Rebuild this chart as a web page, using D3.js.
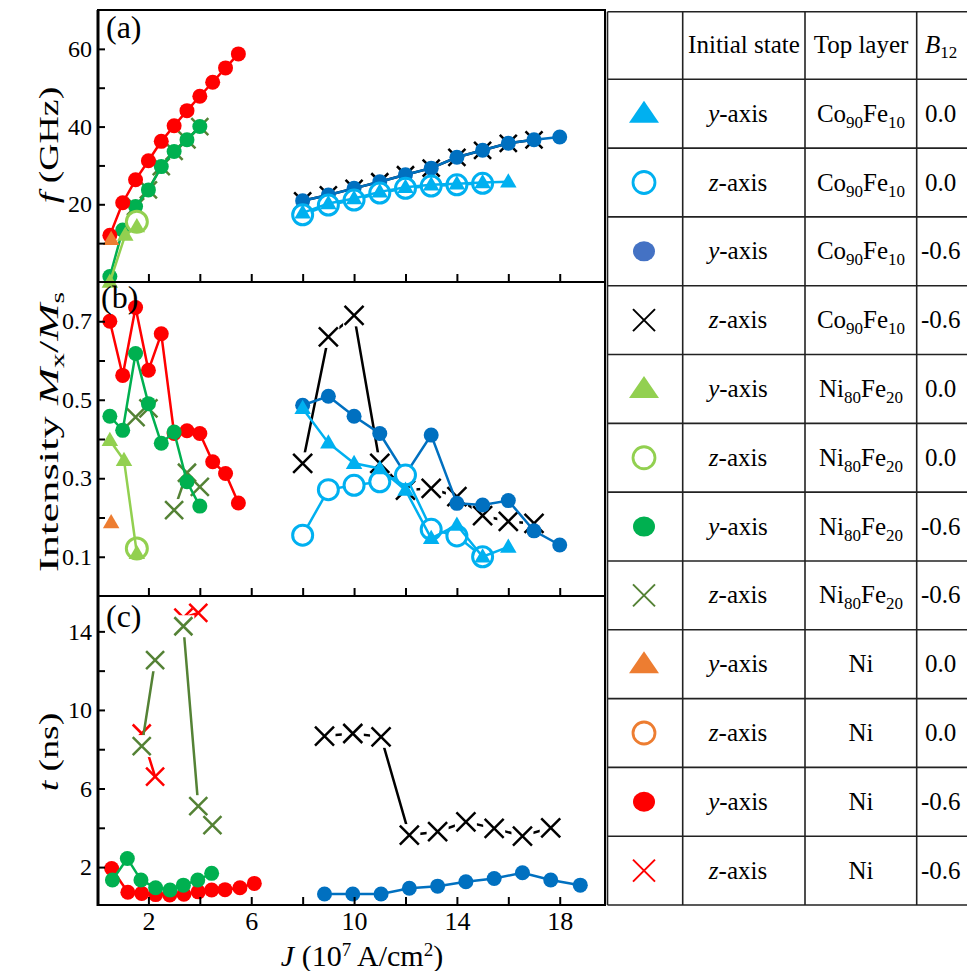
<!DOCTYPE html>
<meta charset="utf-8">
<body>
<script src="https://cdn.jsdelivr.net/npm/d3@7"></script>
<style>
    html, body {
        margin: 0;
        background: #fff;
    }
    svg text {
        font-family: "Liberation Serif", "Times New Roman", serif;
        fill: #000;
    }
</style>
<script>
// ---- data: J in 10^7 A/cm^2 ----
// (a) frequency f (GHz)
var aNiJ   = [0.5, 1, 1.5, 2, 2.5, 3, 3.5, 4, 4.5, 5, 5.5],
    aNiY6  = [12, 20.4, 26.3, 31.2, 36.2, 40.2, 44.1, 47.8, 51.4, 55.1, 58.7],
    aNfJ   = [0.5, 1, 1.5, 2, 2.5, 3, 3.5, 4],
    aNfY6  = [1.4, 13.4, 19.4, 23.7, 29.7, 33.6, 36.6, 40.0],
    aNfZ6J = [1.5, 2, 2.5, 3, 3.5, 4],
    aNfZ6  = [19.4, 23.7, 29.7, 33.6, 36.6, 40.0],
    aNfY0J = [0.5, 1.1, 1.55],
    aNfY0  = [0, 12.1, 14.3],
    aNfZ0J = [1.55],
    aNfZ0  = [15.5],
    aNiY0J = [0.55],
    aNiY0  = [11],
    aCfJ   = [8, 9, 10, 11, 12, 13, 14, 15, 16, 17, 18],
    aCfY6  = [20.9, 22.4, 24.1, 25.8, 27.6, 29.3, 32.1, 33.9, 35.7, 36.6, 37.3],
    aCfZ6  = [20.9, 22.4, 24.1, 25.8, 27.6, 29.3, 32.1, 33.9, 35.7, 36.6],
    aCfZ0  = [17.3, 19.8, 21.1, 22.9, 24.1, 24.7, 25.0, 25.4],
    aCfY0  = [17.8, 20.2, 21.5, 23.2, 24.4, 25.0, 25.3, 25.6, 25.8];

// (b) intensity Mx/Ms
var bNiY6  = [0.70, 0.562, 0.735, 0.575, 0.668, 0.414, 0.421, 0.414, 0.342, 0.312, 0.237],
    bNfY6  = [0.458, 0.422, 0.618, 0.49, 0.389, 0.418, 0.291, 0.229],
    bNfZ6J = [1.5, 2, null, 3, 3.5, 4],
    bNfZ6  = [0.456, 0.478, null, 0.219, 0.314, 0.278],
    bNfY0J = [0.5, 1.05, 1.55],
    bNfY0  = [0.397, 0.346, 0.109],
    bNfZ0  = [0.121],
    bNiY0  = [0.187],
    bCfY6  = [0.486, 0.509, 0.458, 0.414, 0.31, 0.41, 0.236, 0.232, 0.243, 0.166, 0.13],
    bCfZ6  = [0.338, 0.66, 0.715, 0.338, 0.27, 0.274, 0.253, 0.205, 0.19, 0.185],
    bCfY0  = [0.478, 0.39, 0.338, 0.325, 0.27, 0.147, 0.181, 0.10, 0.125],
    bCfZ0  = [0.155, 0.271, 0.282, 0.291, 0.308, 0.17, 0.153, 0.10];

// (c) time t (ns)
var cNiJ   = [0.57, 1.2, 1.74, 2.28, 2.83, 3.38, 3.94, 4.46, 4.98, 5.56, 6.12],
    cNiY6  = [1.93, 0.72, 0.66, 0.6, 0.58, 0.62, 0.74, 0.83, 0.85, 0.95, 1.17],
    cNfJ   = [0.6, 1.18, 1.71, 2.28, 2.84, 3.36, 3.92, 4.46],
    cNfY6  = [1.34, 2.44, 1.34, 0.95, 0.83, 1.08, 1.34, 1.68],
    cZ6J   = [1.74, 2.26, null, 3.36, 3.94, 4.49],
    cNfZ6  = [8.16, 12.53, null, 14.26, 5.1, 4.14],
    cNiZ6  = [8.8, 6.6, null, 14.7, 14.94],
    cCfJ   = [8.85, 9.95, 11.05, 12.15, 13.25, 14.35, 15.45, 16.55, 17.65, 18.8],
    cCfY6  = [0.63, 0.63, 0.63, 0.92, 1.03, 1.25, 1.42, 1.71, 1.34, 1.08],
    cCfZ6  = [8.67, 8.8, 8.63, 3.63, 3.8, 4.3, 3.97, 3.58, 4.0];

// ticks
var xTicks = [2, 4, 6, 8, 10, 12, 14, 16, 18],
    xLabels = [2, 6, 10, 14, 18],
    fTicks = [10, 20, 30, 40, 50, 60],
    fLabels = [20, 40, 60],
    iTicks = [0.1, 0.2, 0.3, 0.4, 0.5, 0.6, 0.7],
    iLabels = [0.1, 0.3, 0.5, 0.7],
    tTicks = [2, 4, 6, 8, 10, 12, 14],
    tLabels = [2, 6, 10, 14];

// legend table
var legMarker = ["tri", "ring", "dot", "cross", "tri", "ring", "dot", "cross", "tri", "ring", "dot", "cross"],
    legColor = ["#00b0f0", "#00b0f0", "#4472c4", "#000", "#92d050", "#92d050", "#00b050", "#548235",
                "#ed7d31", "#ed7d31", "#ff0000", "#ff0000"],
    legState = ["y", "z", "y", "z", "y", "z", "y", "z", "y", "z", "y", "z"],
    legLayer = ["cf", "cf", "cf", "cf", "nf", "nf", "nf", "nf", "ni", "ni", "ni", "ni"],
    legB = ["0.0", "0.0", "-0.6", "-0.6", "0.0", "0.0", "-0.6", "-0.6", "0.0", "0.0", "-0.6", "-0.6"];

var C = {lb: "#00b0f0", db: "#0070c0", k: "#000", lg: "#92d050", g: "#00b050",
         ol: "#548235", or: "#ed7d31", r: "#ff0000"};

var svg = d3.select("body").append("svg")
    .attr("width", 967)
    .attr("height", 971);

var x = d3.scaleLinear().domain([0, 19.8]).range([97, 606]),
    yF = d3.scaleLinear().domain([0, 70]).range([282, 10]),
    yI = d3.scaleLinear().domain([0, 0.8]).range([596, 282]),
    yT = d3.scaleLinear().domain([0.07, 15.8]).range([905, 596]);

function pts(J, v) {
    return v.map(function(d, i) { return [J[i], d]; });
}

function drawMarker(g, type, color, s) {
    if (type == "dot") {
        g.append("circle").attr("r", s / 2).attr("fill", color);
    } else if (type == "ring") {
        g.append("circle").attr("r", s / 2).attr("fill", "#fff")
            .attr("stroke", color).attr("stroke-width", 3);
    } else if (type == "tri") {
        var w = s * 1.1, h = s * 0.95;
        g.append("path").attr("fill", color)
            .attr("d", "M0," + (-h * 0.6) + "L" + (w / 2) + "," + (h * 0.4) + "L" + (-w / 2) + "," + (h * 0.4) + "Z");
    } else if (type == "cross") {
        var a = s / 2;
        g.append("path").attr("stroke", color).attr("stroke-width", 2.5).attr("fill", "none")
            .attr("d", "M" + (-a) + "," + (-a) + "L" + a + "," + a + "M" + (-a) + "," + a + "L" + a + "," + (-a));
    }
}

function series(g, y, data, o) {
    var line = d3.line()
        .defined(function(d) { return d[0] != null && d[1] != null; })
        .x(function(d) { return x(d[0]); })
        .y(function(d) { return y(d[1]); });
    if (data.length > 1) {
        g.append("path").datum(data)
            .attr("fill", "none")
            .attr("stroke", o.c)
            .attr("stroke-width", 2.5)
            .attr("d", line);
    }
    var pp = data.filter(function(d) { return d[0] != null && d[1] != null; });
    if (o.box) {
        g.selectAll(null).data(pp).enter().append("rect")
            .attr("x", function(d) { return x(d[0]) - 11; })
            .attr("y", function(d) { return y(d[1]) - 11; })
            .attr("width", 22).attr("height", 22)
            .attr("fill", "#fff");
    }
    g.selectAll(null).data(pp).enter().append("g")
        .attr("transform", function(d) { return "translate(" + x(d[0]) + "," + y(d[1]) + ")"; })
        .each(function() { drawMarker(d3.select(this), o.m, o.c, o.s); });
}

// ---- panel (a) ----
var ga = svg.append("g");
series(ga, yF, pts(aCfJ, aCfZ6), {m: "cross", c: C.k, s: 17});
series(ga, yF, pts(aCfJ, aCfY6), {m: "dot", c: C.db, s: 15});
series(ga, yF, pts(aCfJ, aCfZ0), {m: "ring", c: C.lb, s: 20});
series(ga, yF, pts(aCfJ, aCfY0), {m: "tri", c: C.lb, s: 15});
series(ga, yF, pts(aNfZ6J, aNfZ6), {m: "cross", c: C.ol, s: 17});
series(ga, yF, pts(aNfJ, aNfY6), {m: "dot", c: C.g, s: 15});
series(ga, yF, pts(aNiJ, aNiY6), {m: "dot", c: C.r, s: 15});
series(ga, yF, pts(aNfZ0J, aNfZ0), {m: "ring", c: C.lg, s: 21});
series(ga, yF, pts(aNfY0J, aNfY0), {m: "tri", c: C.lg, s: 15});
series(ga, yF, pts(aNiY0J, aNiY0), {m: "tri", c: C.or, s: 15});

// ---- panel (b) ----
var gb = svg.append("g");
series(gb, yI, pts(aCfJ, bCfZ6), {m: "cross", c: C.k, s: 19, box: true});
series(gb, yI, pts(aCfJ, bCfY6), {m: "dot", c: C.db, s: 15});
series(gb, yI, pts(aCfJ, bCfZ0), {m: "ring", c: C.lb, s: 20});
series(gb, yI, pts(aCfJ, bCfY0), {m: "tri", c: C.lb, s: 15});
series(gb, yI, pts(aNiJ, bNiY6), {m: "dot", c: C.r, s: 15});
series(gb, yI, pts(bNfZ6J, bNfZ6), {m: "cross", c: C.ol, s: 18, box: true});
series(gb, yI, pts(aNfJ, bNfY6), {m: "dot", c: C.g, s: 15});
series(gb, yI, pts(aNfZ0J, bNfZ0), {m: "ring", c: C.lg, s: 21});
series(gb, yI, pts(bNfY0J, bNfY0), {m: "tri", c: C.lg, s: 15});
series(gb, yI, pts(aNiY0J, bNiY0), {m: "tri", c: C.or, s: 15});

// ---- panel (c) ----
var gc = svg.append("g");
series(gc, yT, pts(cCfJ, cCfZ6), {m: "cross", c: C.k, s: 19, box: true});
series(gc, yT, pts(cCfJ, cCfY6), {m: "dot", c: C.db, s: 15});
series(gc, yT, pts(cZ6J, cNiZ6), {m: "cross", c: C.r, s: 18});
series(gc, yT, pts(cZ6J, cNfZ6), {m: "cross", c: C.ol, s: 18, box: true});
series(gc, yT, pts(cNiJ, cNiY6), {m: "dot", c: C.r, s: 15});
series(gc, yT, pts(cNfJ, cNfY6), {m: "dot", c: C.g, s: 15});

// ---- axes and frames ----
var panels = [
    {y: yF, ticks: fTicks, labels: fLabels, fmt: d3.format("d"), top: 10, bottom: 282},
    {y: yI, ticks: iTicks, labels: iLabels, fmt: d3.format(".1f"), top: 282, bottom: 596},
    {y: yT, ticks: tTicks, labels: tLabels, fmt: d3.format("d"), top: 596, bottom: 905}
];

panels.forEach(function(p, i) {
    var ay = svg.append("g")
        .attr("transform", "translate(98,0)")
        .call(d3.axisLeft(p.y).tickValues(p.ticks).tickSize(-7).tickPadding(6)
            .tickFormat(function(d) {
                return p.labels.some(function(l) { return Math.abs(l - d) < 1e-9; }) ? p.fmt(d) : "";
            }));
    ay.select(".domain").remove();
    ay.selectAll("line").attr("stroke", "#000").attr("stroke-width", 2);
    ay.selectAll("text").style("font-size", "24px").attr("fill", "#000").style("font-family", "Liberation Serif");

    var ax = svg.append("g")
        .attr("transform", "translate(0," + p.bottom + ")")
        .call(d3.axisBottom(x).tickValues(xTicks).tickSize(-8).tickPadding(7)
            .tickFormat(function(d) { return (i == 2 && xLabels.indexOf(d) >= 0) ? d : ""; }));
    ax.select(".domain").remove();
    ax.selectAll("line").attr("stroke", "#000").attr("stroke-width", 2);
    ax.selectAll("text").style("font-size", "26px").attr("fill", "#000").style("font-family", "Liberation Serif");

    svg.append("rect")
        .attr("x", 98).attr("y", p.top)
        .attr("width", 507).attr("height", p.bottom - p.top)
        .attr("fill", "none").attr("stroke", "#000").attr("stroke-width", 2);
});
svg.append("line").attr("x1", 98).attr("x2", 98).attr("y1", 10).attr("y2", 906)
    .attr("stroke", "#000").attr("stroke-width", 3);

// panel letters
[["(a)", 106, 38], ["(b)", 101, 308], ["(c)", 106, 627]].forEach(function(d) {
    svg.append("text").attr("x", d[1]).attr("y", d[2])
        .style("font-size", "32px").text(d[0]);
});

// y titles
function yTitle(cy, build, sx) {
    var t = svg.append("text")
        .attr("transform", "translate(58," + cy + ") rotate(-90) scale(" + sx + ",1)")
        .attr("text-anchor", "middle")
        .style("font-size", "27px");
    build(t);
}
yTitle(145, function(t) {
    t.append("tspan").style("font-style", "italic").text("f");
    t.append("tspan").text(" (GHz)");
}, 1.4);
yTitle(432, function(t) {
    t.append("tspan").text("Intensity ");
    t.append("tspan").style("font-style", "italic").text("M");
    t.append("tspan").attr("dy", 6).style("font-size", "18px").text("x");
    t.append("tspan").attr("dy", -6).text("/");
    t.append("tspan").style("font-style", "italic").text("M");
    t.append("tspan").attr("dy", 6).style("font-size", "18px").text("s");
}, 1.65);
yTitle(752, function(t) {
    t.append("tspan").style("font-style", "italic").text("t");
    t.append("tspan").text(" (ns)");
}, 1.4);

// x title
var xt = svg.append("text")
    .attr("x", 362).attr("y", 966)
    .attr("text-anchor", "middle")
    .style("font-size", "30px");
xt.append("tspan").style("font-style", "italic").text("J");
xt.append("tspan").text(" (10");
xt.append("tspan").attr("dy", -10).style("font-size", "19px").text("7");
xt.append("tspan").attr("dy", 10).text(" A/cm");
xt.append("tspan").attr("dy", -10).style("font-size", "19px").text("2");
xt.append("tspan").attr("dy", 10).text(")");

// ---- legend table ----
var colX = [607.5, 682.7, 805, 916.7],
    tTop = 11.7,
    headH = 67.6,
    rowH = (905 - tTop - headH) / 12;
var tab = svg.append("g").attr("stroke", "#222").attr("stroke-width", 1.6);
colX.forEach(function(cx) {
    tab.append("line").attr("x1", cx).attr("x2", cx).attr("y1", tTop).attr("y2", 905);
});
d3.range(14).forEach(function(k) {
    var yy = k == 0 ? tTop : tTop + headH + (k - 1) * rowH;
    tab.append("line").attr("x1", colX[0]).attr("x2", 967).attr("y1", yy).attr("y2", yy);
});

function hdr(xx, anchor, build) {
    var t = svg.append("text").attr("x", xx).attr("y", 53)
        .attr("text-anchor", anchor).style("font-size", "25px");
    build(t);
}
hdr(744, "middle", function(t) { t.text("Initial state"); });
hdr(861, "middle", function(t) { t.text("Top layer"); });
hdr(925, "start", function(t) {
    t.append("tspan").style("font-style", "italic").text("B");
    t.append("tspan").attr("dy", 5).style("font-size", "17px").text("12");
});

function layerText(t, key) {
    var parts = key == "cf" ? ["Co", "90", "Fe", "10"] : key == "nf" ? ["Ni", "80", "Fe", "20"] : ["Ni"];
    parts.forEach(function(p, i) {
        var ts = t.append("tspan").text(p);
        if (i % 2 == 1) ts.attr("dy", 6).style("font-size", "17px");
        else if (i > 0) ts.attr("dy", -6);
    });
}

legMarker.forEach(function(m, k) {
    var cy = tTop + headH + k * rowH + rowH / 2;
    var g = svg.append("g").attr("transform", "translate(644," + cy + ")");
    if (m == "dot") {
        g.append("ellipse").attr("rx", 11).attr("ry", 10).attr("fill", legColor[k]);
    } else if (m == "ring") {
        g.append("circle").attr("r", 11).attr("fill", "#fff")
            .attr("stroke", legColor[k]).attr("stroke-width", 2.8);
    } else if (m == "tri") {
        g.append("path").attr("fill", legColor[k]).attr("d", "M0,-13L15,9L-15,9Z");
    } else {
        g.append("path").attr("stroke", legColor[k]).attr("stroke-width", 2).attr("fill", "none")
            .attr("d", "M-11,-11L11,11M-11,11L11,-11");
    }
    var st = svg.append("text").attr("x", 738).attr("y", cy + 8)
        .attr("text-anchor", "middle").style("font-size", "25px");
    st.append("tspan").style("font-style", "italic").text(legState[k]);
    st.append("tspan").text("-axis");
    var lt = svg.append("text").attr("x", 861).attr("y", cy + 8)
        .attr("text-anchor", "middle").style("font-size", "25px");
    layerText(lt, legLayer[k]);
    svg.append("text").attr("x", legB[k].charAt(0) == "-" ? 921 : 925).attr("y", cy + 8)
        .style("font-size", "25px").text(legB[k]);
});
</script>
